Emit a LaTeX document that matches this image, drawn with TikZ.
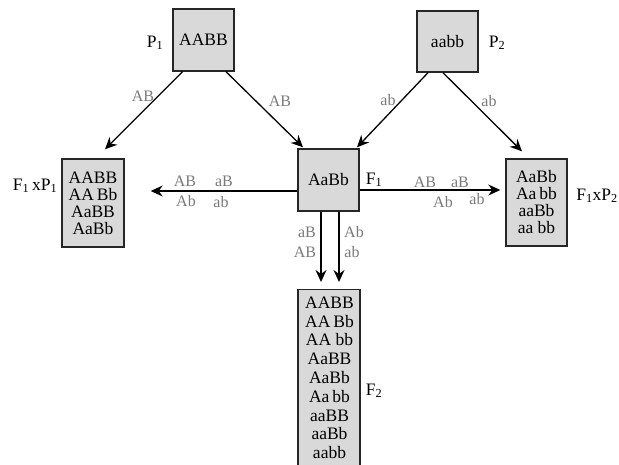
\documentclass[tikz,border=0pt]{standalone}
\usepackage{fontspec}
\setmainfont{Liberation Serif}
\usetikzlibrary{arrows.meta,calc}
\definecolor{boxfill}{HTML}{D9D9D9}
\definecolor{labgray}{HTML}{7A7A7A}
\begin{document}
\begin{tikzpicture}[x=1pt,y=-1pt,
  box/.style={draw=black!85, line width=1.4pt, fill=boxfill, inner sep=0pt,
    align=center, font=\fontsize{17.5}{17}\selectfont},
  arr/.style={line width=1.3pt, -{Stealth[length=12pt,width=11pt,inset=4pt]}},
  gl/.style={text=labgray, font=\fontsize{16}{16}\selectfont, inner sep=0pt, anchor=base},
  bl/.style={font=\fontsize{17.5}{17}\selectfont, inner sep=0pt, anchor=base}]
\useasboundingbox (0,0) rectangle (619,464);

% genotype boxes
\node[box, minimum width=61pt, minimum height=62pt] (p1) at (203.5,40) {AABB};
\node[box, minimum width=61pt, minimum height=61pt] (p2) at (447.5,41.5) {aabb};
\node[box, minimum width=61pt, minimum height=62pt] (f1) at (328.5,180) {AaBb};
\node[box, minimum width=62pt, minimum height=88pt] (f1p1) at (93,203)
  {AABB\\AA\,Bb\\AaBB\\AaBb};
\node[box, minimum width=61pt, minimum height=87pt] (f1p2) at (536.5,202.5)
  {AaBb\\Aa\,bb\\aaBb\\aa bb};
% the F2 box runs on past the lower edge
\node[box, anchor=north, minimum width=62pt, minimum height=180pt] (f2) at (329,289) {};
\node[anchor=north, inner sep=0pt, align=center,
  font=\fontsize{17.5}{18.8}\selectfont] (f2txt) at (329.5,296.5)
  {AABB\\AA\,Bb\\AA bb\\AaBB\\AaBb\\Aa\,bb\\aaBB\\aaBb\\aabb};

% generation labels
\node[bl] (lp1) at (155,47) {P\textsubscript{1}};
\node[bl] (lp2) at (497,47) {P\textsubscript{2}};
\node[bl] (lf1) at (374,184) {F\textsubscript{1}};
\node[bl] (lf2) at (374,395) {F\textsubscript{2}};
\node[bl] (lf1p1) at (35,190) {F\textsubscript{1}\,xP\textsubscript{1}};
\node[bl] (lf1p2) at (597,200) {F\textsubscript{1}xP\textsubscript{2}};

% crosses from the parents
\draw[arr] ([xshift=-21pt]p1.south) -- ([xshift=12pt,yshift=9pt]f1p1.north);
\draw[arr] ([xshift=22.5pt]p1.south) -- ([xshift=-25.5pt,yshift=1pt]f1.north);
\draw[arr] ([xshift=-19.5pt]p2.south) -- ([xshift=28.5pt,yshift=1pt]f1.north);
\draw[arr] ([xshift=-4.5pt]p2.south) -- ([xshift=-14.5pt,yshift=7pt]f1p2.north);

% back-crosses and selfing of F1
\coordinate (lstart) at ([yshift=-11pt]f1.west);
\coordinate (ltip) at ([xshift=26pt]f1p1.east);
\draw[arr] (lstart) -- (ltip |- lstart);
\coordinate (rstart) at ([yshift=-10pt]f1.east);
\coordinate (rtip) at ([xshift=-5pt]f1p2.west);
\draw[arr] (rstart) -- (rtip |- rstart);
\coordinate (d1) at ([xshift=-7.5pt]f1.south);
\coordinate (d2) at ([xshift=10.5pt]f1.south);
\draw[arr, shorten >=7pt] (d1) -- (d1 |- f2.north);
\draw[arr, shorten >=7pt] (d2) -- (d2 |- f2.north);

% gamete labels
\node[gl] (g1) at (143,101) {AB};
\node[gl] (g2) at (280,106) {AB};
\node[gl] (g3) at (388,105) {ab};
\node[gl] (g4) at (489,106) {ab};
\node[gl] (g5) at (185,186) {AB};
\node[gl] (g6) at (224,186) {aB};
\node[gl] (g7) at (186,206) {Ab};
\node[gl] (g8) at (221,207) {ab};
\node[gl] (g9) at (425,187) {AB};
\node[gl] (g10) at (460,187) {aB};
\node[gl] (g11) at (443,207) {Ab};
\node[gl] (g12) at (477,204) {ab};
\node[gl] (g13) at (307,237) {aB};
\node[gl] (g14) at (305,257) {AB};
\node[gl] (g15) at (354,237) {Ab};
\node[gl] (g16) at (352,257) {ab};
\end{tikzpicture}
\end{document}
